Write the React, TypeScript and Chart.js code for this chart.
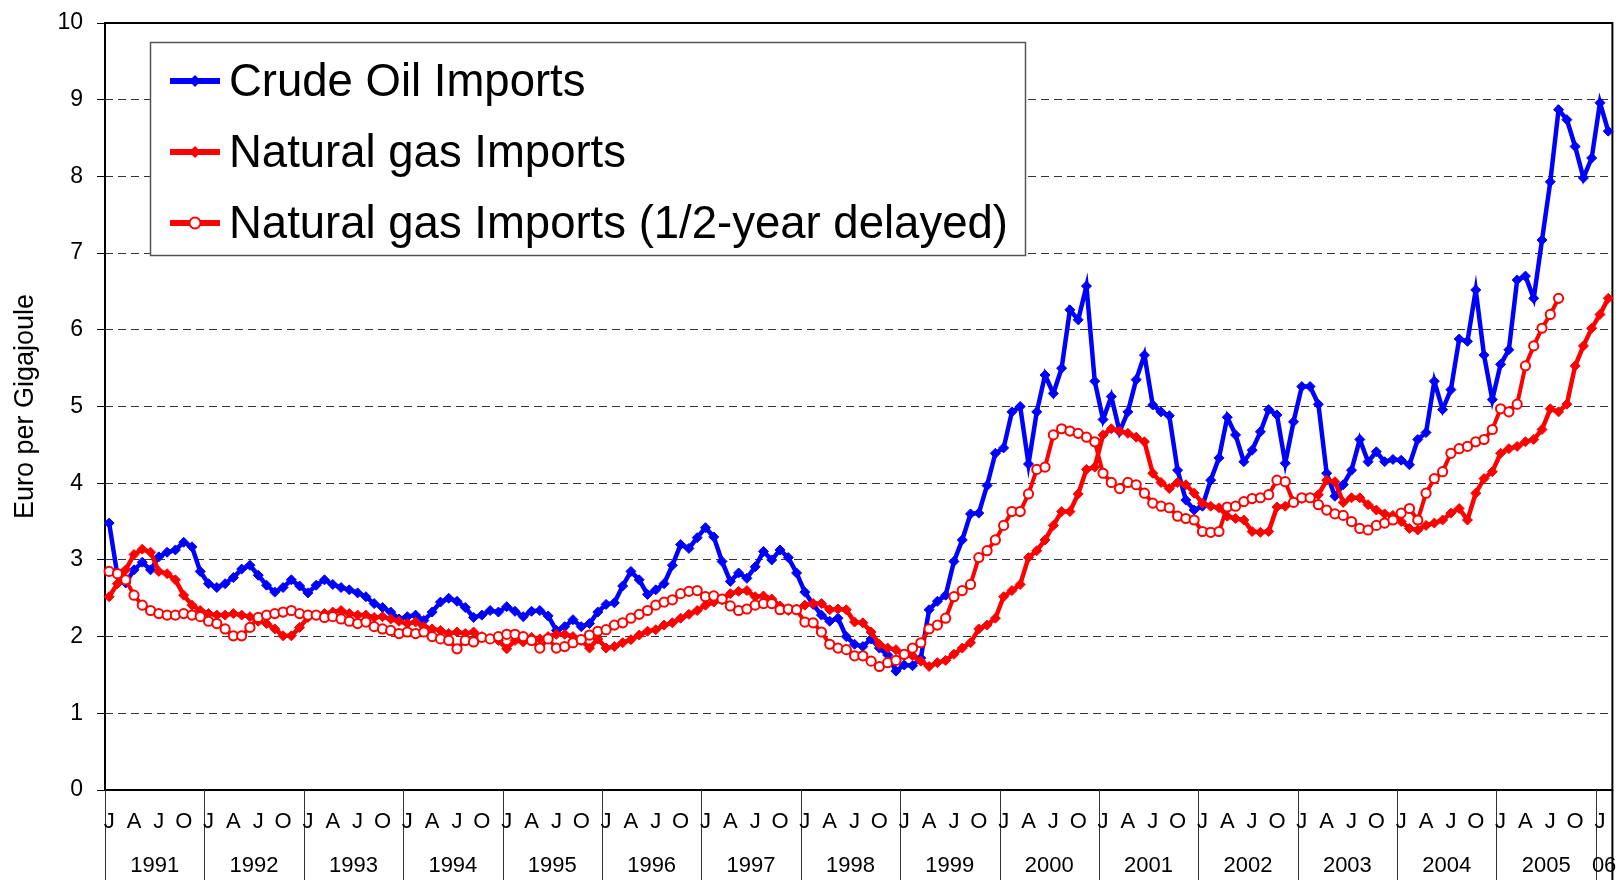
import React, { useEffect, useRef } from 'react';
import { Chart, registerables } from 'chart.js';

Chart.register(...registerables);

// ---------- data ----------
const YEAR_LABELS = ['1991', '1992', '1993', '1994', '1995', '1996', '1997', '1998', '1999', '2000', '2001', '2002', '2003', '2004', '2005', '06'];
const MONTHS_IN_LAST_YEAR = 2;
const QUARTER_LETTERS = ['J', 'A', 'J', 'O'];
const QUARTER_MONTHS = [0, 3, 6, 9];
const Y_TICKS = [0, 1, 2, 3, 4, 5, 6, 7, 8, 9, 10];
const Y_TITLE = 'Euro per Gigajoule';
const SERIES_NAMES = ['Crude Oil Imports', 'Natural gas Imports', 'Natural gas Imports (1/2-year delayed)'];

const CRUDE_OIL = [
  3.48, 2.80, 2.70, 2.87, 2.97, 2.87, 3.04, 3.10, 3.13, 3.23, 3.17, 2.85,
  2.69, 2.64, 2.69, 2.77, 2.88, 2.93, 2.80, 2.67, 2.58, 2.64, 2.74, 2.66,
  2.57, 2.67, 2.74, 2.68, 2.64, 2.61, 2.57, 2.52, 2.43, 2.38, 2.32, 2.23,
  2.26, 2.28, 2.21, 2.32, 2.45, 2.50, 2.46, 2.38, 2.25, 2.28, 2.34, 2.32,
  2.39, 2.33, 2.26, 2.33, 2.34, 2.27, 2.08, 2.13, 2.22, 2.13, 2.17, 2.32,
  2.42, 2.44, 2.66, 2.85, 2.74, 2.55, 2.61, 2.69, 2.93, 3.20, 3.15, 3.29,
  3.42, 3.30, 2.98, 2.72, 2.83, 2.76, 2.91, 3.11, 3.00, 3.13, 3.03, 2.83,
  2.58, 2.42, 2.28, 2.20, 2.24, 2.00, 1.90, 1.87, 1.97, 1.85, 1.76, 1.55,
  1.63, 1.62, 1.72, 2.35, 2.46, 2.54, 2.98, 3.26, 3.60, 3.61, 3.97, 4.39,
  4.46, 4.93, 5.00, 4.25, 4.93, 5.41, 5.17, 5.50, 6.26, 6.13, 6.57, 5.33,
  4.83, 5.13, 4.67, 4.93, 5.35, 5.67, 5.02, 4.93, 4.88, 4.17, 3.78, 3.65,
  3.70, 4.04, 4.33, 4.86, 4.63, 4.28, 4.43, 4.67, 4.96, 4.89, 4.26, 4.80,
  5.26, 5.26, 5.03, 4.13, 3.83, 3.98, 4.17, 4.57, 4.28, 4.41, 4.28, 4.31,
  4.30, 4.24, 4.57, 4.66, 5.33, 4.96, 5.22, 5.88, 5.85, 6.52, 5.67, 5.09,
  5.55, 5.74, 6.65, 6.70, 6.41, 7.17, 7.93, 8.87, 8.74, 8.39, 7.98, 8.24,
  8.96, 8.59,
];

const NATURAL_GAS = [
  2.52, 2.69, 2.87, 3.07, 3.14, 3.10, 2.85, 2.82, 2.74, 2.54, 2.41, 2.34,
  2.30, 2.28, 2.28, 2.30, 2.28, 2.26, 2.20, 2.17, 2.10, 2.01, 2.01, 2.12,
  2.25, 2.28, 2.30, 2.32, 2.34, 2.30, 2.28, 2.28, 2.25, 2.26, 2.23, 2.20,
  2.17, 2.19, 2.13, 2.10, 2.08, 2.04, 2.06, 2.04, 2.06, 2.00, 1.97, 1.95,
  1.84, 1.95, 1.93, 1.99, 1.97, 2.00, 2.03, 2.03, 2.00, 1.95, 1.85, 1.97,
  1.85, 1.87, 1.92, 1.96, 2.02, 2.07, 2.09, 2.15, 2.18, 2.24, 2.29, 2.34,
  2.41, 2.45, 2.48, 2.56, 2.59, 2.60, 2.52, 2.53, 2.49, 2.40, 2.34, 2.36,
  2.41, 2.43, 2.43, 2.35, 2.36, 2.35, 2.19, 2.18, 2.06, 1.90, 1.85, 1.83,
  1.75, 1.75, 1.68, 1.61, 1.66, 1.69, 1.77, 1.85, 1.92, 2.10, 2.15, 2.24,
  2.52, 2.60, 2.68, 3.03, 3.12, 3.26, 3.45, 3.63, 3.63, 3.86, 4.18, 4.21,
  4.63, 4.71, 4.68, 4.65, 4.60, 4.54, 4.13, 4.01, 3.93, 4.01, 3.98, 3.87,
  3.74, 3.70, 3.68, 3.57, 3.54, 3.52, 3.37, 3.36, 3.37, 3.69, 3.70, 3.76,
  3.80, 3.81, 3.85, 4.04, 4.02, 3.75, 3.81, 3.81, 3.72, 3.65, 3.60, 3.58,
  3.50, 3.41, 3.39, 3.45, 3.48, 3.52, 3.61, 3.67, 3.52, 3.87, 4.06, 4.15,
  4.39, 4.45, 4.48, 4.54, 4.57, 4.70, 4.97, 4.93, 5.03, 5.53, 5.79, 6.02,
  6.20, 6.41,
];

const NATURAL_GAS_DELAYED = [
  2.85, 2.82, 2.74, 2.54, 2.41, 2.34, 2.30, 2.28, 2.28, 2.30, 2.28, 2.26,
  2.20, 2.17, 2.10, 2.01, 2.01, 2.12, 2.25, 2.28, 2.30, 2.32, 2.34, 2.30,
  2.28, 2.28, 2.25, 2.26, 2.23, 2.20, 2.17, 2.19, 2.13, 2.10, 2.08, 2.04,
  2.06, 2.04, 2.06, 2.00, 1.97, 1.95, 1.84, 1.95, 1.93, 1.99, 1.97, 2.00,
  2.03, 2.03, 2.00, 1.95, 1.85, 1.97, 1.85, 1.87, 1.92, 1.96, 2.02, 2.07,
  2.09, 2.15, 2.18, 2.24, 2.29, 2.34, 2.41, 2.45, 2.48, 2.56, 2.59, 2.60,
  2.52, 2.53, 2.49, 2.40, 2.34, 2.36, 2.41, 2.43, 2.43, 2.35, 2.36, 2.35,
  2.19, 2.18, 2.06, 1.90, 1.85, 1.83, 1.75, 1.75, 1.68, 1.61, 1.66, 1.69,
  1.77, 1.85, 1.92, 2.10, 2.15, 2.24, 2.52, 2.60, 2.68, 3.03, 3.12, 3.26,
  3.45, 3.63, 3.63, 3.86, 4.18, 4.21, 4.63, 4.71, 4.68, 4.65, 4.60, 4.54,
  4.13, 4.01, 3.93, 4.01, 3.98, 3.87, 3.74, 3.70, 3.68, 3.57, 3.54, 3.52,
  3.37, 3.36, 3.37, 3.69, 3.70, 3.76, 3.80, 3.81, 3.85, 4.04, 4.02, 3.75,
  3.81, 3.81, 3.72, 3.65, 3.60, 3.58, 3.50, 3.41, 3.39, 3.45, 3.48, 3.52,
  3.61, 3.67, 3.52, 3.87, 4.06, 4.15, 4.39, 4.45, 4.48, 4.54, 4.57, 4.70,
  4.97, 4.93, 5.03, 5.53, 5.79, 6.02, 6.20, 6.41,
];

// month categories built from the year labels
const CATEGORIES: string[] = [];
YEAR_LABELS.forEach((y, yi) => {
  const count = yi === YEAR_LABELS.length - 1 ? MONTHS_IN_LAST_YEAR : 12;
  for (let m = 0; m < count; m++) CATEGORIES.push(`${y}-${m + 1}`);
});

// ---------- styling ----------
const W = 1619;
const H = 880;
const FONT = "'Liberation Sans', Arial, sans-serif";
const BLUE = '#0000FF';
const RED = '#FF0000';

const plotBorder = {
  id: 'plotBorder',
  beforeDatasetsDraw(chart: any) {
    const { ctx, chartArea: a } = chart;
    ctx.save();
    ctx.strokeStyle = '#000';
    ctx.lineWidth = 2;
    ctx.strokeRect(a.left, a.top, a.right - a.left, a.bottom - a.top);
    ctx.restore();
  },
};

const legendBox = {
  id: 'legendBox',
  beforeDatasetsDraw(chart: any) {
    const { ctx } = chart;
    ctx.save();
    ctx.fillStyle = '#fff';
    ctx.fillRect(150, 42, 875, 213);
    ctx.strokeStyle = '#555';
    ctx.lineWidth = 1.5;
    ctx.strokeRect(150.5, 42.5, 875, 213);
    const rows = [81, 152, 223];
    const colors = [BLUE, RED, RED];
    SERIES_NAMES.forEach((name, i) => {
      const y = rows[i];
      ctx.strokeStyle = colors[i];
      ctx.lineWidth = 6;
      ctx.beginPath();
      ctx.moveTo(170, y);
      ctx.lineTo(220, y);
      ctx.stroke();
      const cx = 195;
      if (i < 2) {
        ctx.fillStyle = colors[i];
        ctx.beginPath();
        ctx.moveTo(cx, y - 6);
        ctx.lineTo(cx + 6, y);
        ctx.lineTo(cx, y + 6);
        ctx.lineTo(cx - 6, y);
        ctx.closePath();
        ctx.fill();
      } else {
        ctx.fillStyle = '#fff';
        ctx.strokeStyle = RED;
        ctx.lineWidth = 2;
        ctx.beginPath();
        ctx.arc(cx, y, 5.5, 0, Math.PI * 2);
        ctx.fill();
        ctx.stroke();
      }
      ctx.fillStyle = '#000';
      ctx.font = `45.5px ${FONT}`;
      ctx.textAlign = 'left';
      ctx.textBaseline = 'middle';
      ctx.fillText(name, 229, y + 2);
    });
    ctx.restore();
  },
};

const xAxisLabels = {
  id: 'xAxisLabels',
  afterDraw(chart: any) {
    const { ctx, chartArea: a, scales } = chart;
    const x = scales.x;
    const catW = (a.right - a.left) / CATEGORIES.length;
    ctx.save();
    ctx.strokeStyle = '#333';
    ctx.lineWidth = 1;
    ctx.fillStyle = '#000';
    ctx.textAlign = 'center';
    ctx.textBaseline = 'middle';
    ctx.font = `22px ${FONT}`;
    let idx = 0;
    YEAR_LABELS.forEach((label, yi) => {
      const count = yi === YEAR_LABELS.length - 1 ? MONTHS_IN_LAST_YEAR : 12;
      const xs = x.getPixelForValue(idx) - catW / 2;
      const xe = x.getPixelForValue(idx + count - 1) + catW / 2;
      const px = Math.round(xs) + 0.5;
      ctx.beginPath();
      ctx.moveTo(px, a.bottom);
      ctx.lineTo(px, H);
      ctx.stroke();
      QUARTER_MONTHS.forEach((m, qi) => {
        if (m < count) ctx.fillText(QUARTER_LETTERS[qi], x.getPixelForValue(idx + m), 822);
      });
      ctx.fillText(label, (xs + xe) / 2, 866);
      idx += count;
    });
    ctx.strokeStyle = '#000';
    ctx.lineWidth = 2;
    ctx.beginPath();
    ctx.moveTo(a.right, a.bottom);
    ctx.lineTo(a.right, H);
    ctx.stroke();
    ctx.restore();
  },
};

export default function App() {
  const ref = useRef<HTMLCanvasElement | null>(null);

  useEffect(() => {
    if (!ref.current) return;
    const chart = new Chart(ref.current, {
      type: 'line',
      data: {
        labels: CATEGORIES,
        datasets: [
          {
            label: SERIES_NAMES[0],
            data: CRUDE_OIL,
            borderColor: BLUE,
            backgroundColor: BLUE,
            borderWidth: 4.5,
            pointStyle: 'rectRot',
            pointRadius: 5,
            pointBorderWidth: 1,
            pointBackgroundColor: BLUE,
            pointBorderColor: BLUE,
            tension: 0,
            clip: false,
            order: 3,
          },
          {
            label: SERIES_NAMES[1],
            data: NATURAL_GAS,
            borderColor: RED,
            backgroundColor: RED,
            borderWidth: 4.5,
            pointStyle: 'rectRot',
            pointRadius: 5,
            pointBorderWidth: 1,
            pointBackgroundColor: RED,
            pointBorderColor: RED,
            tension: 0,
            clip: false,
            order: 2,
          },
          {
            label: SERIES_NAMES[2],
            data: NATURAL_GAS_DELAYED,
            borderColor: RED,
            backgroundColor: '#fff',
            borderWidth: 4,
            pointStyle: 'circle',
            pointRadius: 4.6,
            pointBorderWidth: 2,
            pointBackgroundColor: '#fff',
            pointBorderColor: RED,
            tension: 0,
            clip: false,
            order: 1,
          },
        ] as any,
      },
      options: {
        responsive: false,
        animation: false,
        devicePixelRatio: 1,
        layout: { padding: { left: 0, top: 23, right: 5, bottom: 0 } },
        plugins: {
          legend: { display: false },
          tooltip: { enabled: false },
        },
        scales: {
          x: {
            type: 'category',
            offset: true,
            grid: { display: false },
            border: { display: false },
            ticks: { display: false },
            afterFit: (s: any) => { s.height = 90; },
          },
          y: {
            min: Y_TICKS[0],
            max: Y_TICKS[Y_TICKS.length - 1],
            afterBuildTicks: (s: any) => { s.ticks = Y_TICKS.map((v) => ({ value: v })); },
            grid: {
              color: (c: any) => (c.tick && (c.tick.value === 0 || c.tick.value === 10) ? 'rgba(0,0,0,0)' : '#333'),
              lineWidth: 1,
              drawTicks: true,
              tickLength: 8,
              tickColor: '#000',
              tickWidth: 1,
            },
            border: { display: false, dash: [8, 5] },
            ticks: {
              color: '#000',
              font: { family: FONT, size: 23 },
              padding: 14,
            },
            title: {
              display: true,
              text: Y_TITLE,
              color: '#000',
              font: { family: FONT, size: 27 },
              padding: { top: 9, bottom: 0 },
            },
            afterFit: (s: any) => {
              s.width = 105;
              s.paddingTop = 0;
              s.paddingBottom = 0;
            },
          },
        },
      } as any,
      plugins: [plotBorder, legendBox, xAxisLabels],
    });
    return () => chart.destroy();
  }, []);

  return (
    <div style={{ position: 'absolute', left: 0, top: 0, width: W, height: H, background: '#fff' }}>
      <canvas ref={ref} width={W} height={H} style={{ display: 'block' }} />
    </div>
  );
}
